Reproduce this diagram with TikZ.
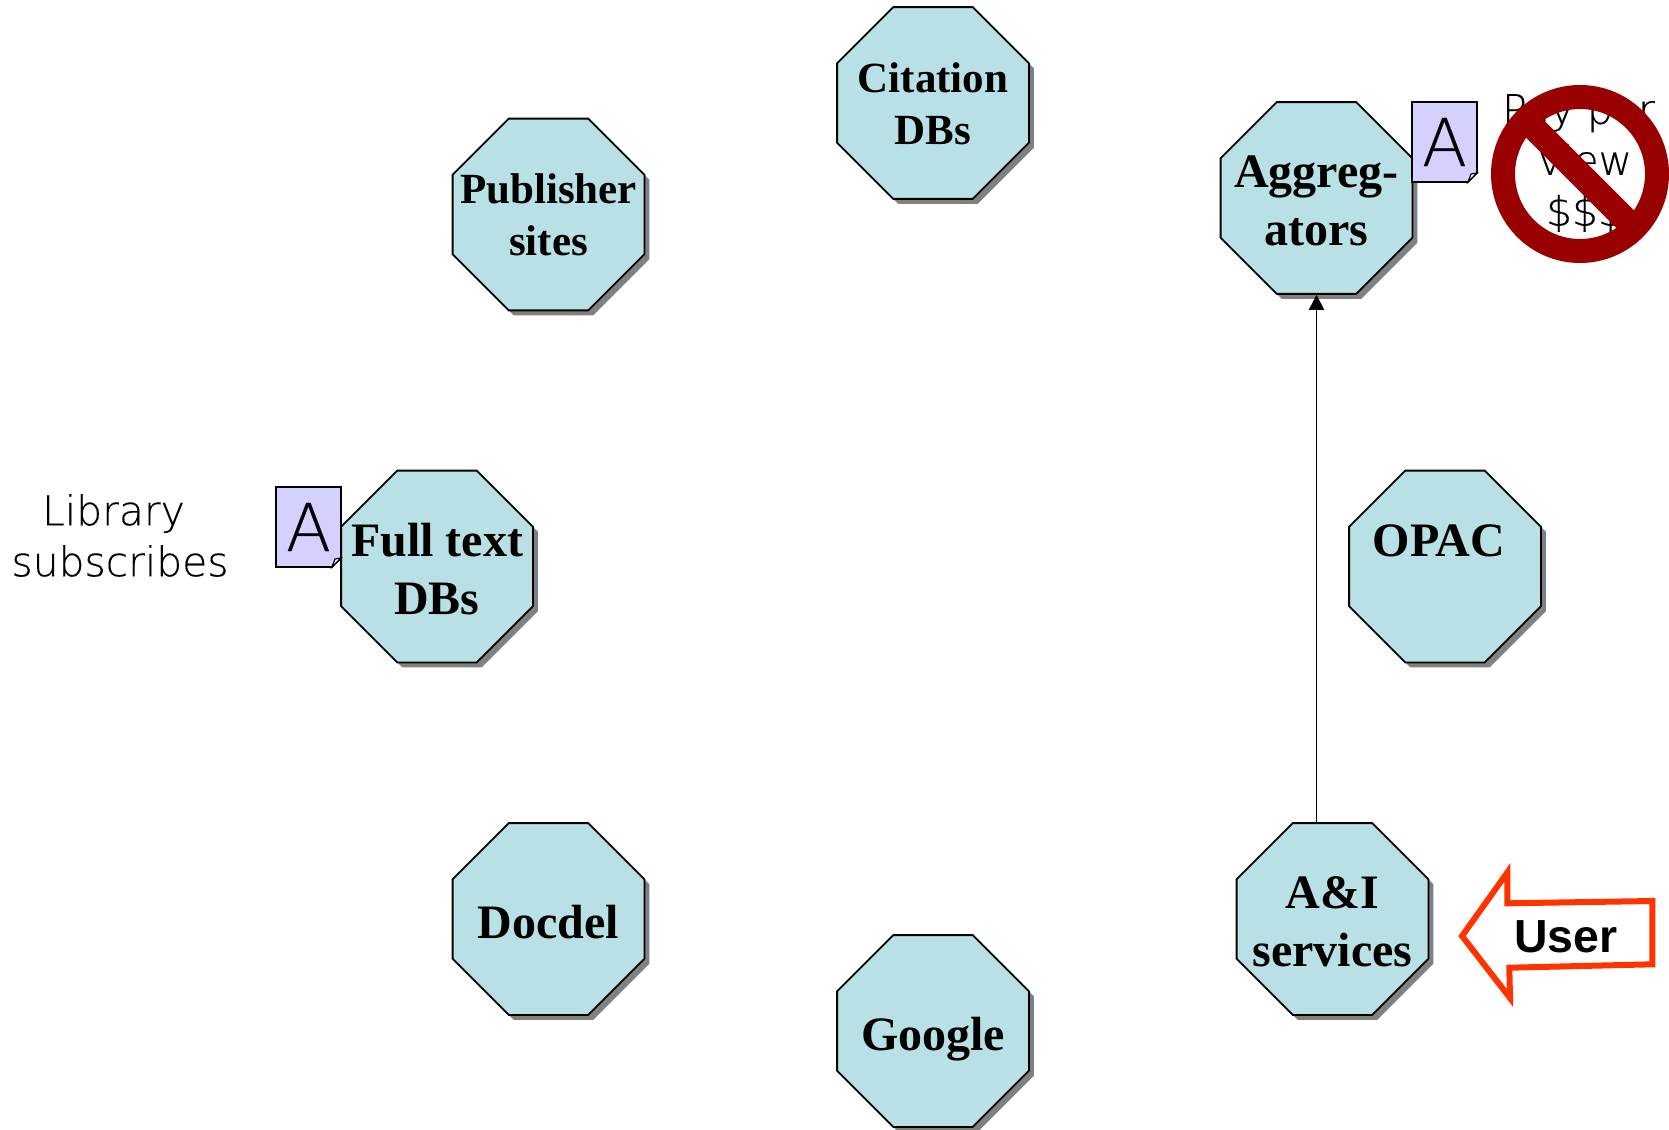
\documentclass[tikz,border=0pt]{standalone}
\usepackage{fontspec}
\usepackage{tikz}
\usetikzlibrary{arrows.meta}
\usetikzlibrary{shapes.geometric}
\usetikzlibrary{shadows}
\setmainfont{Liberation Serif}
\newfontfamily\userfont{Liberation Sans}
\newfontfamily\thinfont[FakeBold=0.3]{DejaVu Sans ExtraLight}
\definecolor{mteal}{RGB}{185, 224, 228}
\definecolor{mlilac}{RGB}{212, 208, 255}
\definecolor{mred}{RGB}{153, 0, 0}
\definecolor{morange}{RGB}{255, 51, 0}
\tikzset{octagon/.style = {regular polygon, regular polygon sides=8, minimum size=103.8pt,
                           inner sep=-15pt, draw, line width=0.9pt, fill=mteal, align=center,
                           font=\fontsize{24}{29}\selectfont\bfseries,
                           text height=48pt,
                           drop shadow={shadow xshift=2.5pt, shadow yshift=-2.5pt, fill=black!50, opacity=1}},
         octagonsmall/.style = {octagon, font=\fontsize{21.5}{26}\selectfont\bfseries, text height=41.6pt},
         octagonsingle/.style = {octagon, text height=19.2pt, text depth=0pt},
         thintext/.style = {align=center, inner sep=0pt, font=\fontsize{20.4}{25.5}\selectfont\thinfont},
         sheet/.style = {draw, line width=0.8pt, fill=mlilac},
         sheetletter/.style = {inner sep=0pt, font=\fontsize{33}{33}\selectfont\thinfont}}
\newcommand{\docsheet}[3]{
  \draw [sheet] (#2, #3) -- ++(65, 0) -- ++(0, 71) -- ++(-9, 9) -- ++(-56, 0) -- cycle;
  \draw [line width=0.6pt, fill=white] (#2 + 56, #3 + 80) -- (#2 + 59, #3 + 72) -- (#2 + 65, #3 + 71) -- cycle;
  \node [sheetletter] (#1) at (#2 + 32.5, #3 + 40) {A};
}

\begin{document}
\begin{tikzpicture}[x=0.5pt, y=-0.5pt]
    \useasboundingbox (0, 0) rectangle (1669, 1129);

    \node [octagonsmall] (citation) at (933, 103) {Citation\\DBs};
    \node [octagonsmall] (publisher) at (548.5, 214.5) {Publisher\\sites};
    \node [octagon] (aggregators) at (1316.5, 198) {Aggreg-\\ators};
    \node [octagon] (fulltext) at (437, 566.5) {Full text\\DBs};
    \node [octagon] (opac) at (1445, 566.5) {OPAC\mbox{~}\\\mbox{~}};
    \node [octagonsingle] (docdel) at (548.5, 919) {Docdel};
    \node [octagon] (services) at (1332.5, 919) {A\&I\\services};
    \node [octagonsingle] (google) at (933, 1031) {Google};

    \draw [-{Triangle[length=7.5pt, width=7.5pt]}, line width=0.9pt] (services.north -| aggregators.south) -- (aggregators.south);

    \docsheet{sheetleft}{276}{487}
    \docsheet{sheetright}{1412}{102}

    \node [thintext] (library) at (120, 535.5) {Library\mbox{~}\\subscribes};
    \node [thintext] (payperview) at (1585, 163) {Pay per\mbox{~}\\view\\\$\$\$};

    \node [circle, draw=mred, line width=12pt, minimum size=77pt, inner sep=0pt, outer sep=0pt] (nosign) at (1580, 174) {};
    \draw [mred, line width=12.5pt] (nosign.135) -- (nosign.-45);

    \draw [morange, line width=3pt, miter limit=10] (1462, 936) -- (1507.3, 872.5) -- (1507.3, 903.3) -- (1652.3, 901)
        -- (1652.3, 964.3) -- (1509.3, 967.7) -- (1510, 998) -- cycle;
    \node [inner sep=0pt, font=\fontsize{23.2}{28}\selectfont\userfont\bfseries] (user) at (1566, 937) {User};
\end{tikzpicture}
\end{document}
